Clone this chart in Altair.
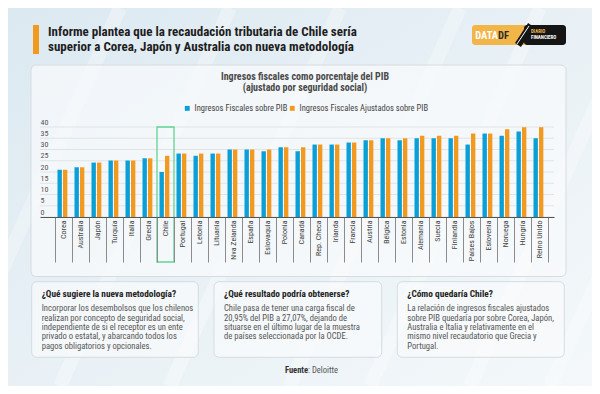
import altair as alt
import pandas as pd

# ---------------- data ----------------
paises = ["Corea", "Australia", "Japón", "Turquía", "Italia", "Grecia", "Chile",
          "Portugal", "Letonia", "Lituania", "Nva Zelanda", "España", "Eslovaquia",
          "Polonia", "Canadá", "Rep. Checa", "Irlanda", "Francia", "Austria",
          "Bélgica", "Estonia", "Alemania", "Suecia", "Finlandia", "Países Bajos",
          "Eslovenia", "Noruega", "Hungría", "Reino Unido"]
fiscales = [21.0, 22.1, 24.2, 25.1, 25.1, 26.1, 20.0, 28.2, 27.2, 28.2, 30.0, 30.0,
            29.2, 31.0, 29.2, 32.2, 32.2, 33.1, 34.1, 35.0, 34.1, 35.0, 35.0, 35.0,
            32.2, 37.1, 36.1, 38.0, 35.0]
ajustados = [21.0, 22.1, 24.2, 25.1, 25.1, 26.1, 27.2, 28.2, 28.2, 28.2, 30.0, 30.0,
             30.0, 31.0, 31.0, 32.2, 32.2, 33.1, 34.1, 35.0, 35.0, 36.1, 36.1, 36.1,
             37.1, 37.1, 39.0, 39.9, 39.9]
series = ["Ingresos Fiscales sobre PIB", "Ingresos Fiscales Ajustados sobre PIB"]
ticks_y = [0, 5, 10, 15, 20, 25, 30, 35, 40]
destacado = ["Chile"]

titulo = ["Informe plantea que la recaudación tributaria de Chile sería",
          "superior a Corea, Japón y Australia con nueva metodología"]
titulo_grafico = ["Ingresos fiscales como porcentaje del PIB",
                  "(ajustado por seguridad social)"]
cajas_titulos = ["¿Qué sugiere la nueva metodología?",
                 "¿Qué resultado podría obtenerse?",
                 "¿Cómo quedaría Chile?"]
cajas_textos = [
    ["Incorporar los desembolsos que los chilenos",
     "realizan por concepto de seguridad social,",
     "independiente de si el receptor es un ente",
     "privado o estatal, y abarcando todos los",
     "pagos obligatorios y opcionales."],
    ["Chile pasa de tener una carga fiscal de",
     "20,95% del PIB a 27,07%, dejando de",
     "situarse en el último lugar de la muestra",
     "de países seleccionada por la OCDE."],
    ["La relación de ingresos fiscales ajustados",
     "sobre PIB quedaría por sobre Corea, Japón,",
     "Australia e Italia y relativamente en el",
     "mismo nivel recaudatorio que Grecia y",
     "Portugal."],
]
fuente = ["Fuente", ": Deloitte"]
logo = ["DATA", "DF", "DIARIO", "FINANCIERO"]

# ---------------- styles ----------------
FONT = "'Roboto Condensed', 'Liberation Sans Narrow', 'DejaVu Sans Condensed', sans-serif"
AZUL = "#0a9fd6"
NARANJA = "#f29a20"
VERDE = "#62d394"

df = pd.DataFrame({
    "pais": paises * 2,
    "serie": [series[0]] * len(paises) + [series[1]] * len(paises),
    "valor": fiscales + ajustados,
})
one = pd.DataFrame({"k": [0]})

xscale = alt.Scale(domain=paises, paddingInner=0, paddingOuter=0.6176, align=0.714)
yscale = alt.Scale(domain=[0, 40])

XAXIS = alt.Axis(title=None, labelAngle=270, tickBand="extent",
                 tickSize=45, tickColor="#8c8c8c", tickWidth=1,
                 domainColor="#555555", domainWidth=1.2,
                 labelFont=FONT, labelFontSize=8, labelColor="#444444",
                 labelPadding=-42, grid=False, zindex=1)
YAXIS = alt.Axis(title=None, values=ticks_y, grid=False, domain=False,
                 ticks=False, tickSize=0, labelAlign="left",
                 labelBaseline="bottom", labelPadding=0,
                 labelOffset=-1, labelFont=FONT, labelFontSize=8,
                 labelColor="#555555", zindex=1)


def rect(x, x2, y, y2, **kw):
    return alt.Chart(one).mark_rect(**kw).encode(
        x=alt.value(x), x2=alt.value(x2), y=alt.value(y), y2=alt.value(y2))


def rule(x, y, x2, y2, **kw):
    return alt.Chart(one).mark_rule(**kw).encode(
        x=alt.value(x), y=alt.value(y), x2=alt.value(x2), y2=alt.value(y2))


def txt(s, x, y, **kw):
    kw.setdefault("font", FONT)
    return alt.Chart(one).mark_text(text=s, **kw).encode(
        x=alt.value(x), y=alt.value(y))


layers = []

# background
layers.append(rect(-32, 552, -119, 259, fill=alt.Gradient(
    gradient="linear",
    stops=[alt.GradientStop(color="#dce9f1", offset=0),
           alt.GradientStop(color="#f4f8fa", offset=1)],
    x1=0, y1=0, x2=1, y2=1)))
for bx in [-90, 20, 130, 250, 330, 430, 510]:
    layers.append(rule(bx, 259, bx + 170, -119, color="white",
                       strokeWidth=14, opacity=0.3))

# title
layers.append(rect(-7, -1, -102, -73, fill=NARANJA))
layers.append(txt(titulo, 8, -91, align="left", baseline="alphabetic",
                  fontSize=13, fontWeight="bold", color="#1e1e1e",
                  lineHeight=14.5))

# logo
layers.append(rect(432, 487, -102, -82, fill="#f2b548", cornerRadius=3))
layers.append(rect(484, 526, -102, -82, fill="#151515", cornerRadius=3))
layers.append(rule(478, -82, 491, -102, color="#151515", strokeWidth=7))
layers.append(rule(477, -83, 489, -101, color="white", strokeWidth=1))
layers.append(txt(logo[0], 458, -88, align="right", baseline="alphabetic",
                  fontSize=10.5, fontWeight="bold", color="white"))
layers.append(txt(logo[1], 458, -88, align="left", baseline="alphabetic",
                  fontSize=10.5, fontWeight="bold", color="#2a2a2a"))
layers.append(txt(logo[2], 491, -94, align="left", baseline="alphabetic",
                  fontSize=5, fontWeight="bold", color="#f2b548"))
layers.append(txt(logo[3], 491, -88.5, align="left", baseline="alphabetic",
                  fontSize=5, fontWeight="bold", color="white"))

# chart panel
layers.append(rect(-9, 526, -62, 149.5, fill="#f9fbfc", fillOpacity=0.7,
                   stroke="#d6dce0", strokeWidth=1, cornerRadius=5))
layers.append(txt(titulo_grafico, 265, -47.5, align="center",
                  baseline="alphabetic", fontSize=10, fontWeight="bold",
                  color="#4a4a4a", lineHeight=11.5))

# bottom boxes
cajas_x = [(-8.3, 158.3), (174, 341.7), (357.3, 524.3)]
for (bx0, bx1), head, body in zip(cajas_x, cajas_titulos, cajas_textos):
    layers.append(rect(bx0, bx1, 154.7, 230.3, fill="#f9fbfc", fillOpacity=0.7,
                       stroke="#d6dce0", strokeWidth=1, cornerRadius=5))
    layers.append(txt(head, bx0 + 10, 170, align="left", baseline="alphabetic",
                      fontSize=9.3, fontWeight="bold", color="#222222"))
    layers.append(txt(body, bx0 + 10, 184.3, align="left", baseline="alphabetic",
                      fontSize=8.6, color="#555555", lineHeight=9.35))

layers.append(txt(fuente[0], 268, 246, align="right", baseline="alphabetic",
                  fontSize=8.5, fontWeight="bold", color="#333333"))
layers.append(txt(fuente[1], 268, 246, align="left", baseline="alphabetic",
                  fontSize=8.5, color="#555555"))

# gridlines
grid = alt.Chart(pd.DataFrame({"valor": ticks_y})).mark_rule(
    color="#dfe4e7", strokeWidth=1).encode(
    y=alt.Y("valor:Q", scale=yscale, axis=YAXIS))
layers.append(grid)

# Chile highlight
chile = alt.Chart(pd.DataFrame({"pais": destacado})).mark_rect(
    fillOpacity=0, stroke=VERDE, strokeWidth=1.3).encode(
    x=alt.X("pais:N", scale=xscale, sort=paises, axis=XAXIS),
    y=alt.value(0), y2=alt.value(135))
layers.append(chile)

bars = alt.Chart(df).mark_bar().encode(
    x=alt.X("pais:N", scale=xscale, sort=paises, axis=XAXIS),
    xOffset=alt.XOffset("serie:N", sort=series,
                        scale=alt.Scale(domain=series, paddingInner=0.2,
                                        paddingOuter=0.65, align=0.35)),
    y=alt.Y("valor:Q", scale=yscale, axis=YAXIS),
    color=alt.Color("serie:N", sort=series,
                    scale=alt.Scale(domain=series, range=[AZUL, NARANJA]),
                    legend=alt.Legend(title=None, orient="none", legendX=143,
                                      legendY=-23, direction="horizontal",
                                      symbolType="square", symbolSize=24,
                                      symbolStrokeWidth=0, labelFont=FONT,
                                      labelFontSize=8.5, labelColor="#444444",
                                      columnPadding=-3, labelOffset=3)),
)
layers.append(bars)

chart = alt.layer(*layers).properties(
    width=514, height=90,
    padding={"left": 32, "top": 119, "right": 38, "bottom": 169},
    autosize=alt.AutoSizeParams(type="none"),
    background="#e9f1f5",
).configure_view(strokeWidth=0)

chart.save("out.html", embed_options={"renderer": "svg", "actions": False})
